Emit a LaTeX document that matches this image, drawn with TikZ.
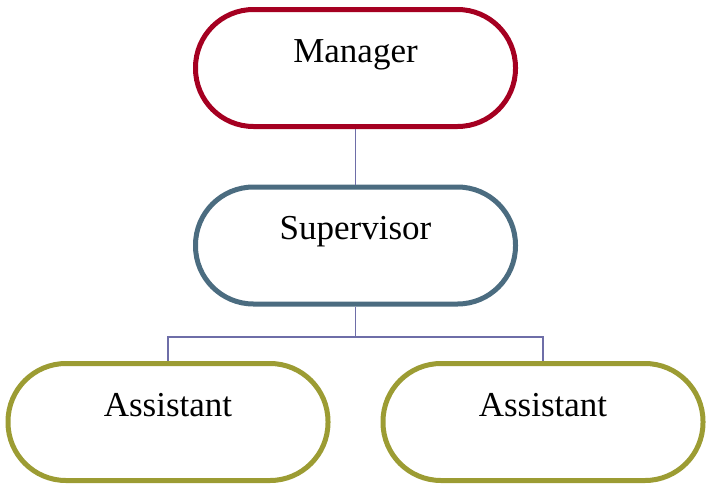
\documentclass[tikz,border=0pt]{standalone}
\usepackage{fontspec}
\setmainfont{Liberation Serif}
\definecolor{mgr}{HTML}{A50021}
\definecolor{sup}{HTML}{4B6C80}
\definecolor{ast}{HTML}{9C9C33}
\definecolor{conn}{HTML}{6E6EA8}
\begin{document}
\begin{tikzpicture}[x=1pt,y=-1pt,
  pill/.style={draw, line width=5pt, fill=white, rounded corners=58pt,
    minimum width=320pt, minimum height=117pt, inner sep=0pt,
    text height=20pt, text depth=32pt,
    font=\fontsize{35}{40}\selectfont},
  connline/.style={draw=conn, line width=1.3pt}]
\useasboundingbox (0,0) rectangle (706,485);
\coordinate (mid) at (355.5,337);
\node[pill, draw=mgr] (m) at (355.5,68) {Manager};
\node[pill, draw=sup] (s) at (355.5,245.5) {Supervisor};
\node[pill, draw=ast] (a1) at (168,422) {Assistant};
\node[pill, draw=ast] (a2) at (543,422) {Assistant};
\draw[connline] (m.south) -- (s.north);
\draw[connline] (s.south) -- (mid) -| (a1.north);
\draw[connline] (mid) -| (a2.north);
\end{tikzpicture}
\end{document}
